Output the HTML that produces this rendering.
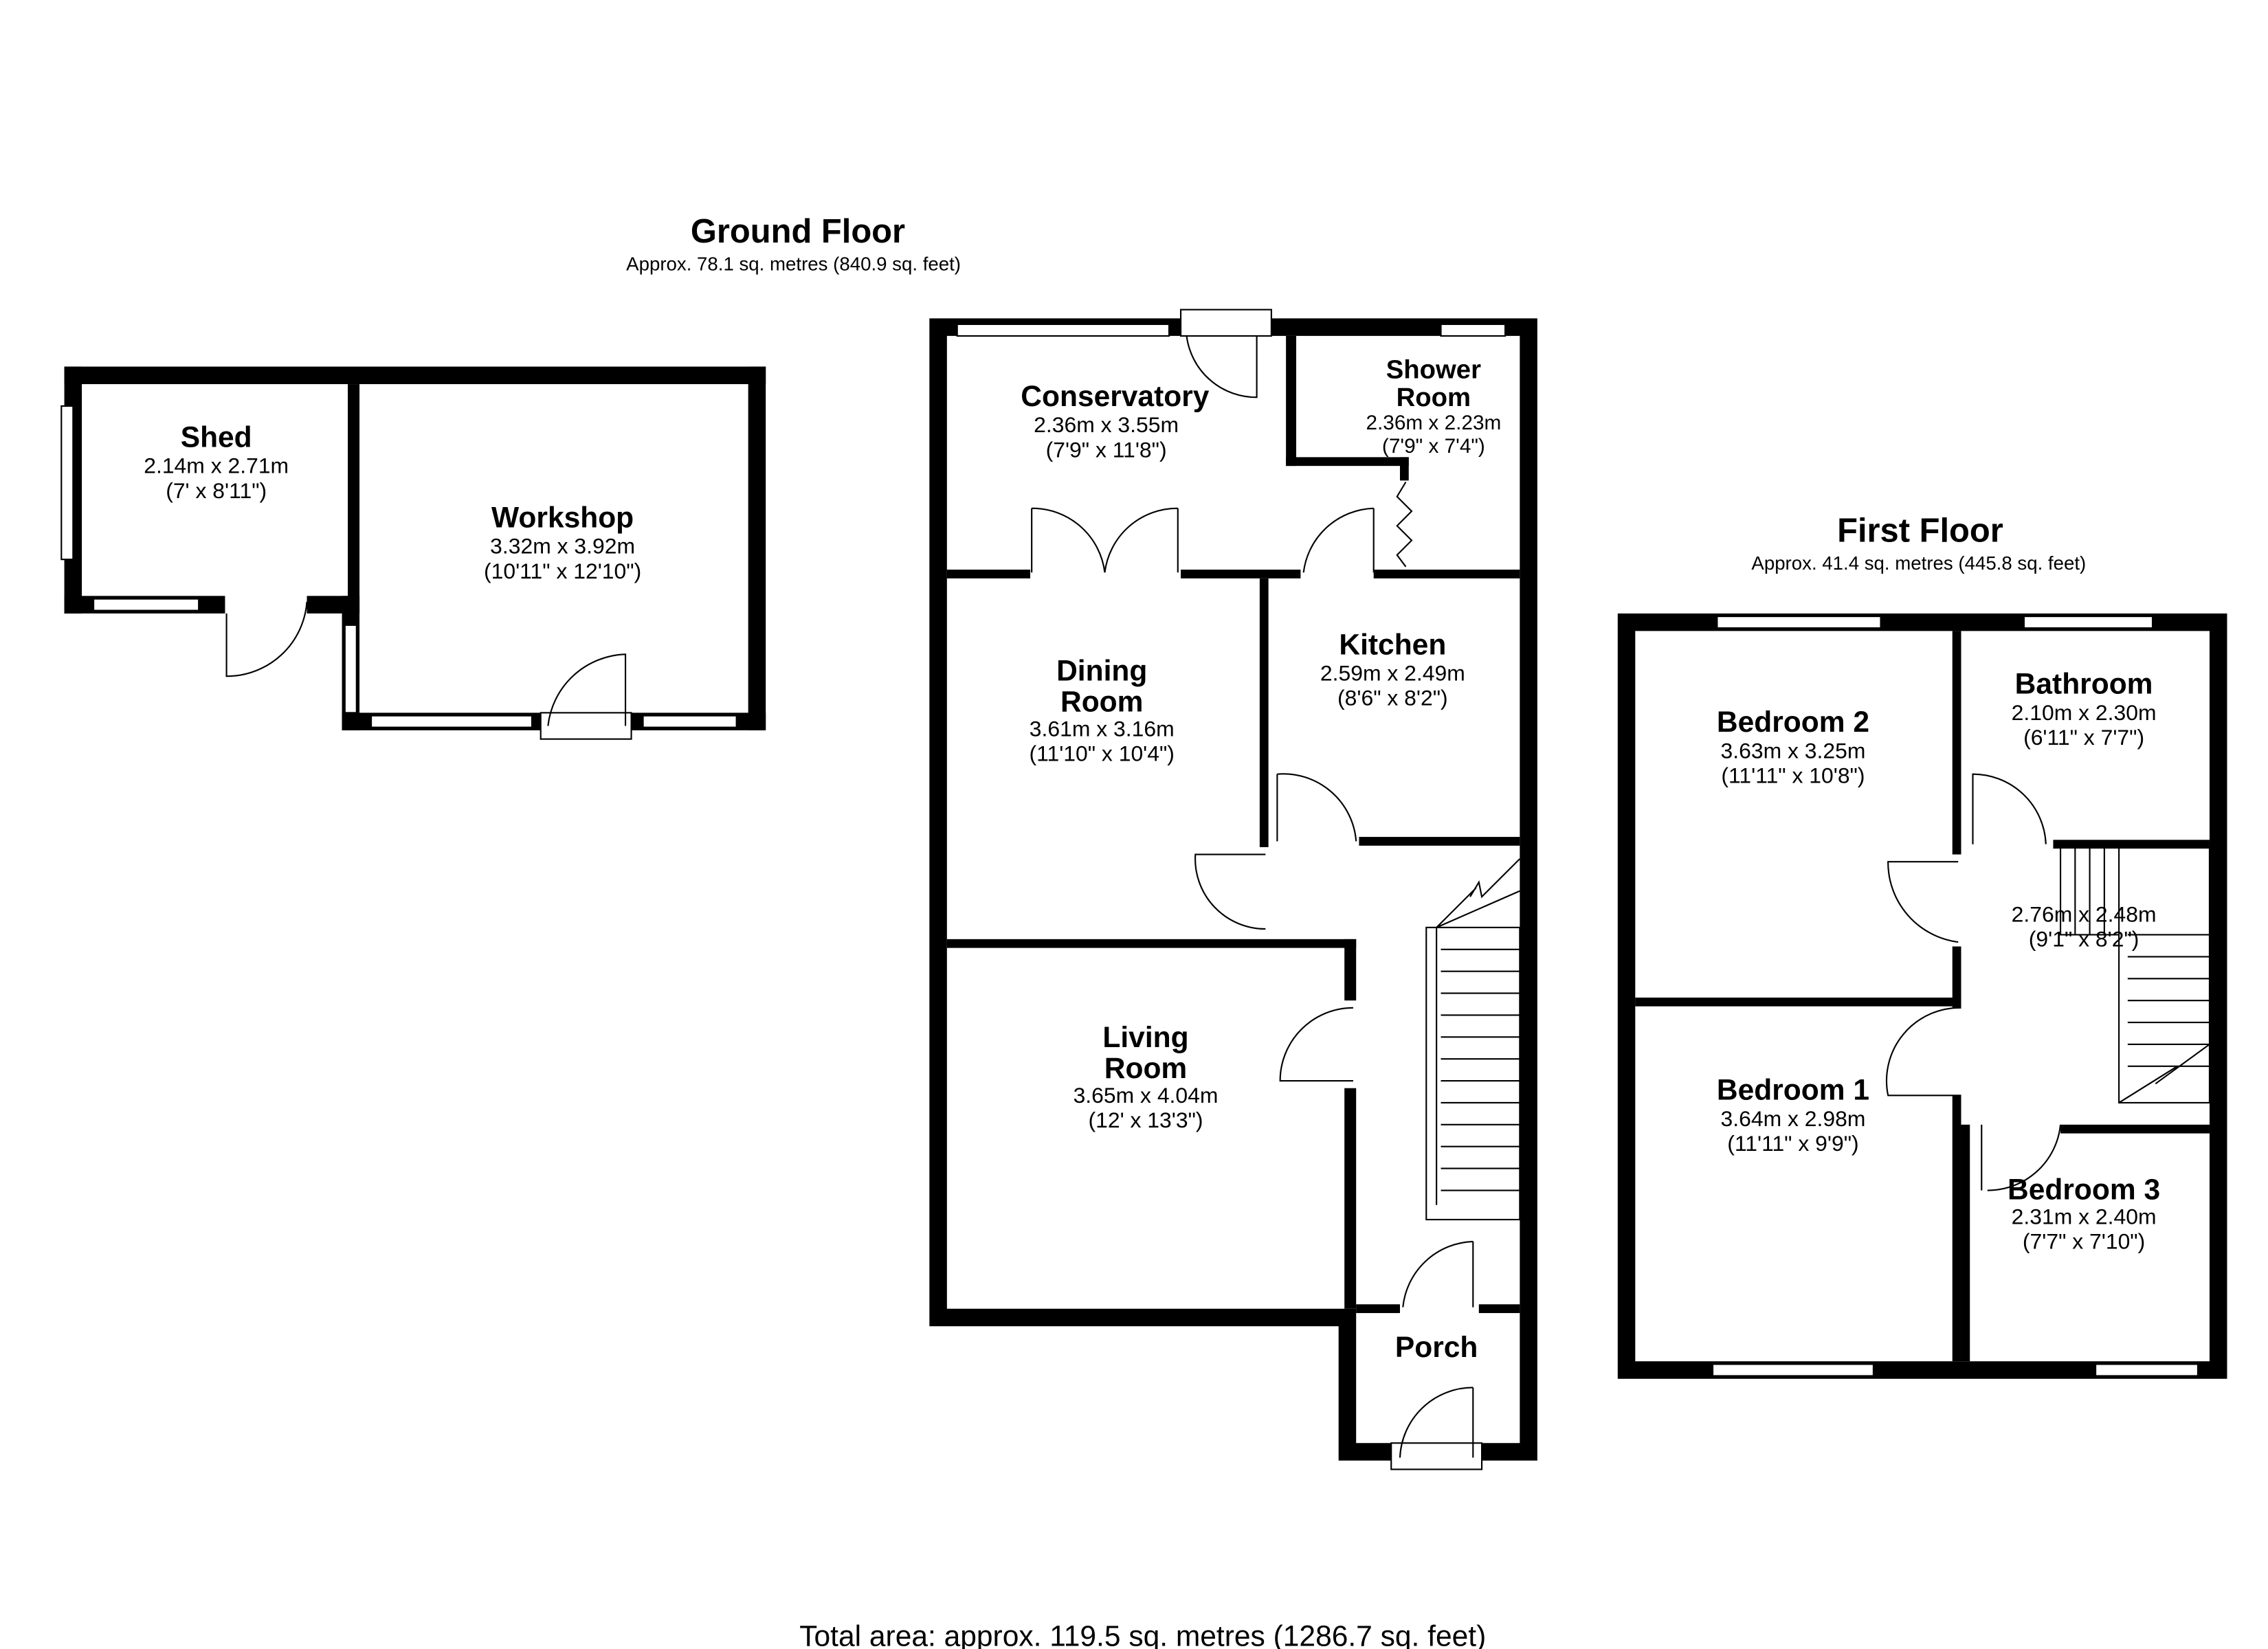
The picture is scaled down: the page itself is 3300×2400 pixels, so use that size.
<!DOCTYPE html>
<html><head><meta charset="utf-8"><style>
html,body{margin:0;padding:0;background:#fff}
svg{display:block}
text{font-family:"Liberation Sans",Arial,sans-serif;fill:#000}
.n{font-weight:bold;font-size:20px;text-anchor:middle}
.d{font-size:15px;text-anchor:middle}
.t{font-size:13px;text-anchor:middle}
</style></head><body>
<svg width="3300" height="2400" viewBox="0 0 1552 1129" preserveAspectRatio="none" xmlns="http://www.w3.org/2000/svg">
<rect width="1552" height="1129" fill="#fff"/>
<text x="546" y="166" class="n" style="font-size:23px">Ground Floor</text>
<text x="543" y="185" class="t">Approx. 78.1 sq. metres (840.9 sq. feet)</text>
<text x="1314" y="371" class="n" style="font-size:23px">First Floor</text>
<text x="1313" y="390" class="t">Approx. 41.4 sq. metres (445.8 sq. feet)</text>
<text x="782" y="1133" class="d" style="font-size:20px" dy="-6">Total area: approx. 119.5 sq. metres (1286.7 sq. feet)</text>

<g fill="#000">
<rect x="44" y="251" width="480" height="12"/>
<rect x="44" y="251" width="12" height="169"/>
<rect x="512" y="251" width="12" height="249"/>
<rect x="238" y="263" width="8" height="157"/>
<rect x="44" y="408" width="110" height="12"/>
<rect x="210" y="408" width="36" height="12"/>
<rect x="234" y="408" width="12" height="92"/>
<rect x="234" y="488" width="136" height="12"/>
<rect x="432" y="488" width="92" height="12"/>
</g>
<g fill="#fff" stroke="#000" stroke-width="1">
<rect x="42" y="278" width="8" height="105"/>
<rect x="64" y="410" width="72" height="8"/>
<rect x="236" y="428" width="8" height="60"/>
<rect x="254" y="490" width="110" height="8"/>
<rect x="440" y="490" width="64" height="8"/>
<rect x="370" y="488" width="62" height="18"/>
</g>
<g fill="none" stroke="#000" stroke-width="1">
<path d="M155 420 V463 A55 55 0 0 0 210 412"/>
<path d="M428 497 V448 A55 55 0 0 0 375 497"/>
</g>

<path fill="#000" fill-rule="evenodd" d="M636 218H1052V1000H916V908H636Z M648 230V896H928V988H1040V230Z"/>
<g fill="#000">
<rect x="648" y="390" width="57" height="6"/>
<rect x="808" y="390" width="82" height="6"/>
<rect x="940" y="390" width="100" height="6"/>
<rect x="880" y="230" width="7" height="89"/>
<rect x="880" y="313" width="84" height="6"/>
<rect x="958" y="313" width="6" height="16"/>
<rect x="862" y="396" width="6" height="184"/>
<rect x="930" y="573" width="110" height="6"/>
<rect x="648" y="643" width="280" height="6"/>
<rect x="920" y="643" width="8" height="42"/>
<rect x="920" y="745" width="8" height="151"/>
<rect x="928" y="893" width="30" height="6"/>
<rect x="1012" y="893" width="28" height="6"/>
</g>
<g fill="#fff" stroke="#000" stroke-width="1">
<rect x="655" y="222" width="145" height="8"/>
<rect x="808" y="212" width="62" height="18"/>
<rect x="986" y="222" width="44" height="8"/>
<rect x="952" y="988" width="62" height="18"/>
</g>
<g fill="none" stroke="#000" stroke-width="1">
<path d="M812 230 A48 48 0 0 0 860 272 V230"/>
<path d="M706 348 V392 M706 348 A50 50 0 0 1 756 392 M806 348 V392 M806 348 A50 50 0 0 0 756 392"/>
<path d="M940 348 V392 M940 348 A50 50 0 0 0 892 392"/>
<path d="M962 330 L956 340 L966 350 L956 360 L966 370 L956 380 L962 388"/>
<path d="M874 530 V576 M874 530 A50 50 0 0 1 928 576"/>
<path d="M866 636 A48 48 0 0 1 818 585 H866"/>
<path d="M926 690 A50 50 0 0 0 876 740 H926"/>
<path d="M1008 850 V895 M1008 850 A50 50 0 0 0 960 895"/>
<path d="M1008 950 V998 M1008 950 A50 50 0 0 0 958 998"/>
<rect x="976" y="635" width="64" height="200"/>
<line x1="983" y1="635" x2="983" y2="825"/>
<path d="M983 635 L1010 608 M1006 614 L1012 604 L1014 614 L1040 588 M983 635 L1040 610"/>
<path d="M986 665H1040M986 695H1040M986 725H1040M986 755H1040M986 785H1040M986 815H1040M986 650H1040M986 680H1040M986 710H1040M986 740H1040M986 770H1040M986 800H1040"/>
</g>
<text x="763" y="278" class="n">Conservatory</text>
<text x="757" y="296" class="d">2.36m x 3.55m</text>
<text x="757" y="313" class="d">(7'9" x 11'8")</text>
<text x="981" y="259" class="n" style="font-size:18px">Shower</text>
<text x="981" y="278" class="n" style="font-size:18px">Room</text>
<text x="981" y="294" class="d" style="font-size:14px">2.36m x 2.23m</text>
<text x="981" y="310" class="d" style="font-size:14px">(7'9" x 7'4")</text>
<text x="953" y="448" class="n">Kitchen</text>
<text x="953" y="466" class="d">2.59m x 2.49m</text>
<text x="953" y="483" class="d">(8'6" x 8'2")</text>
<text x="754" y="466" class="n">Dining</text>
<text x="754" y="487" class="n">Room</text>
<text x="754" y="504" class="d">3.61m x 3.16m</text>
<text x="754" y="521" class="d">(11'10" x 10'4")</text>
<text x="784" y="717" class="n">Living</text>
<text x="784" y="738" class="n">Room</text>
<text x="784" y="755" class="d">3.65m x 4.04m</text>
<text x="784" y="772" class="d">(12' x 13'3")</text>
<text x="983" y="929" class="n">Porch</text>
<text x="148" y="306" class="n">Shed</text>
<text x="148" y="324" class="d">2.14m x 2.71m</text>
<text x="148" y="341" class="d">(7' x 8'11")</text>
<text x="385" y="361" class="n">Workshop</text>
<text x="385" y="379" class="d">3.32m x 3.92m</text>
<text x="385" y="396" class="d">(10'11" x 12'10")</text>

<path fill="#000" fill-rule="evenodd" d="M1107 420H1524V944H1107Z M1119 432V932H1512V432Z"/>
<g fill="#000">
<rect x="1336" y="432" width="6" height="153"/>
<rect x="1336" y="648" width="6" height="42"/>
<rect x="1119" y="683" width="223" height="6"/>
<rect x="1336" y="750" width="6" height="182"/>
<rect x="1405" y="575" width="107" height="6"/>
<rect x="1410" y="770" width="102" height="6"/>
<rect x="1342" y="770" width="6" height="162"/>
</g>
<g fill="#fff" stroke="#000" stroke-width="1">
<rect x="1175" y="422" width="112" height="8"/>
<rect x="1385" y="422" width="88" height="8"/>
<rect x="1172" y="934" width="110" height="8"/>
<rect x="1434" y="934" width="70" height="8"/>
</g>
<g fill="none" stroke="#000" stroke-width="1">
<path d="M1340 645 A55 55 0 0 1 1292 590 H1340"/>
<path d="M1342 690 A50 50 0 0 0 1292 750 H1342"/>
<path d="M1350 578 V530 A50 50 0 0 1 1400 578"/>
<path d="M1356 770 V815 M1410 770 A50 50 0 0 1 1360 815"/>
<rect x="1450" y="580" width="62" height="175"/>
<path d="M1410 580V640H1450M1420 580V640M1430 580V640M1440 580V640M1456 640H1512M1456 655H1512M1456 670H1512M1456 685H1512M1456 700H1512M1456 715H1512M1456 730H1512M1450 755 L1490 730 M1475 742 L1512 715"/>
</g>
<text x="1227" y="501" class="n">Bedroom 2</text>
<text x="1227" y="519" class="d">3.63m x 3.25m</text>
<text x="1227" y="536" class="d">(11'11" x 10'8")</text>
<text x="1426" y="475" class="n">Bathroom</text>
<text x="1426" y="493" class="d">2.10m x 2.30m</text>
<text x="1426" y="510" class="d">(6'11" x 7'7")</text>
<text x="1426" y="631" class="d">2.76m x 2.48m</text>
<text x="1426" y="648" class="d">(9'1" x 8'2")</text>
<text x="1227" y="753" class="n">Bedroom 1</text>
<text x="1227" y="771" class="d">3.64m x 2.98m</text>
<text x="1227" y="788" class="d">(11'11" x 9'9")</text>
<text x="1426" y="821" class="n">Bedroom 3</text>
<text x="1426" y="838" class="d">2.31m x 2.40m</text>
<text x="1426" y="855" class="d">(7'7" x 7'10")</text>
</svg>
</body></html>
